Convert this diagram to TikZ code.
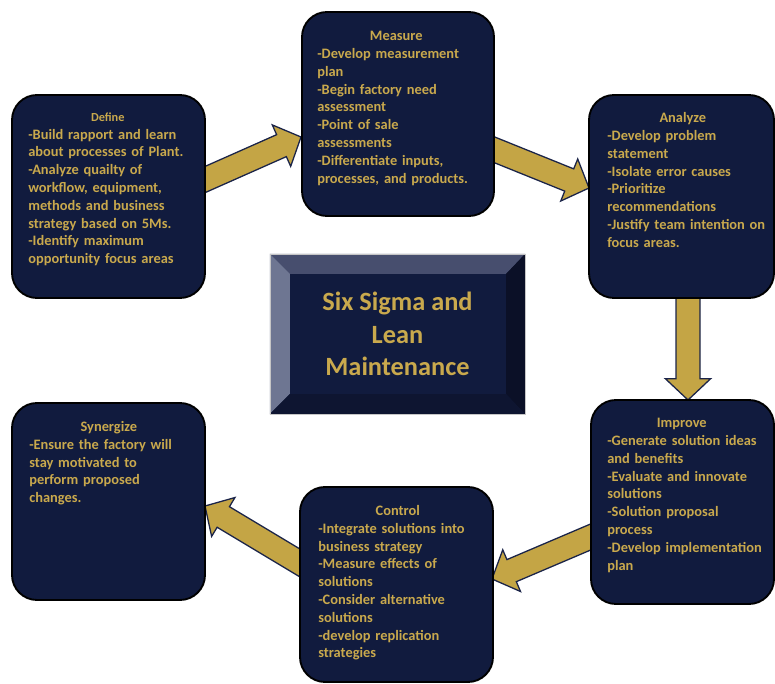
\documentclass[tikz,border=0pt]{standalone}
\usepackage{fontspec}
\setmainfont{Carlito}
\usepackage{tikz}
\usetikzlibrary{calc,positioning,backgrounds}
\definecolor{BoxNavy}{HTML}{111B3E}
\definecolor{TextGold}{HTML}{C9A94D}
\definecolor{ArrowGold}{HTML}{C4A545}
\definecolor{ArrowEdge}{HTML}{1B2449}
\definecolor{BevelTop}{HTML}{474E6E}
\definecolor{BevelLeft}{HTML}{6E7692}
\definecolor{BevelRight}{HTML}{0B1027}
\definecolor{BevelBottom}{HTML}{0E1531}
\tikzset{
  stepbox/.style={
    draw=black,
    line width=1.6pt,
    fill=BoxNavy,
    rounded corners=0.75cm
  },
  steptext/.style={
    text=TextGold,
    font=\bfseries\fontsize{12.3}{15.2}\selectfont,
    align=left,
    inner sep=0pt,
    text width=#1
  },
  flowarrow/.style={draw=ArrowEdge, line width=1.1pt, fill=ArrowGold, line join=miter}
}
% block arrow, tail #1, tip #2
\newcommand{\blockarrow}[2]{%
  \coordinate (hb) at ($(#2)!0.64cm!(#1)$);
  \draw[flowarrow] ($(#1)!0.36cm!90:(#2)$) -- ($(hb)!0.36cm!90:(#2)$)
    -- ($(hb)!0.68cm!90:(#2)$) -- (#2) -- ($(hb)!0.68cm!-90:(#2)$)
    -- ($(hb)!0.36cm!-90:(#2)$) -- ($(#1)!0.36cm!-90:(#2)$) -- cycle;
}

\begin{document}
\begin{tikzpicture}[x=0.03cm, y=-0.03cm]
\useasboundingbox (0,0) rectangle (775,684);
% the six steps
\node[stepbox, minimum width=5.79cm, minimum height=6.09cm] (define)    at (108.5,196.5) {};
\node[stepbox, minimum width=5.76cm, minimum height=6.12cm] (measure)   at (398,114) {};
\node[stepbox, minimum width=5.55cm, minimum height=6.09cm] (analyze)   at (681.5,196.5) {};
\node[stepbox, minimum width=5.49cm, minimum height=6.12cm] (improve)   at (682.5,502) {};
\node[stepbox, minimum width=5.79cm, minimum height=5.85cm] (control)   at (396.5,584.5) {};
\node[stepbox, minimum width=5.79cm, minimum height=5.91cm] (synergize) at (108.5,501.5) {};

\node[steptext=4.77cm, below right=0.55cm and 0.51cm of define.north west] (definetxt)
  {\makebox[\hsize]{\fontsize{10.5}{15.2}\selectfont Define}\\-Build rapport and learn\\\mbox{about processes of Plant.}\\-Analyze quailty of\\workflow, equipment,\\methods and business\\\mbox{strategy based on 5Ms.}\\-Identify maximum\\opportunity focus areas};
\node[steptext=4.74cm, below right=0.6cm and 0.48cm of measure.north west] (measuretxt)
  {\makebox[\hsize]{Measure}\\-Develop measurement\\plan\\-Begin factory need\\assessment\\-Point of sale\\assessments\\-Differentiate inputs,\\\mbox{processes, and products.}};
\node[steptext=4.53cm, below right=0.55cm and 0.57cm of analyze.north west] (analyzetxt)
  {\makebox[\hsize]{Analyze}\\-Develop problem\\statement\\-Isolate error causes\\-Prioritize\\recommendations\\\mbox{-Justify team intention on}\\focus areas.};
\node[steptext=4.47cm, below right=0.57cm and 0.51cm of improve.north west] (improvetxt)
  {\makebox[\hsize]{Improve}\\\mbox{-Generate solution ideas}\\and benefits\\\mbox{-Evaluate and innovate}\\solutions\\-Solution proposal\\process\\\mbox{-Develop implementation}\\plan};
\node[steptext=4.77cm, below right=0.57cm and 0.57cm of control.north west] (controltxt)
  {\makebox[\hsize]{Control}\\\mbox{-Integrate solutions into}\\business strategy\\-Measure effects of\\solutions\\-Consider alternative\\solutions\\-develop replication\\strategies};
\node[steptext=4.77cm, below right=0.57cm and 0.54cm of synergize.north west] (synergizetxt)
  {\makebox[\hsize]{Synergize}\\-Ensure the factory will\\stay motivated to\\perform proposed\\changes.};

% centre panel with bevel
\node[minimum width=7.65cm, minimum height=4.8cm, fill=BoxNavy, inner sep=0pt] (core) at (397.5,334) {};
\coordinate (cnw) at ([shift={(0.6cm,-0.6cm)}]core.north west);
\coordinate (cne) at ([shift={(-0.57cm,-0.6cm)}]core.north east);
\coordinate (cse) at ([shift={(-0.57cm,0.6cm)}]core.south east);
\coordinate (csw) at ([shift={(0.6cm,0.6cm)}]core.south west);
\fill[BevelTop]    (core.north west) -- (core.north east) -- (cne) -- (cnw) -- cycle;
\fill[BevelLeft]   (core.north west) -- (cnw) -- (csw) -- (core.south west) -- cycle;
\fill[BevelRight]  (core.north east) -- (core.south east) -- (cse) -- (cne) -- cycle;
\fill[BevelBottom] (core.south west) -- (csw) -- (cse) -- (core.south east) -- cycle;
\draw[gray!45, line width=0.4pt] (core.north west) rectangle (core.south east);
\node[text=TextGold, font=\bfseries\fontsize{22.5}{28}\selectfont, align=center] (coretxt) at (core)
  {Six Sigma and\\Lean\\Maintenance};

% arrows between the steps
\coordinate (defineout)   at (195,184);
\coordinate (measurein)   at (301,137);
\coordinate (measureout)  at (485,146);
\coordinate (analyzein)   at (589,188);
\coordinate (analyzeout)  at (688,290);
\coordinate (improvein)   at (688,400);
\coordinate (improveout)  at (600,533);
\coordinate (controlin)   at (492,579);
\coordinate (controlout)  at (310,569);
\coordinate (synergizein) at (205,506);
\begin{scope}[on background layer]
\blockarrow{defineout}{measurein}
\blockarrow{measureout}{analyzein}
\blockarrow{analyzeout}{improvein}
\blockarrow{improveout}{controlin}
\blockarrow{controlout}{synergizein}
\end{scope}
\end{tikzpicture}
\end{document}
